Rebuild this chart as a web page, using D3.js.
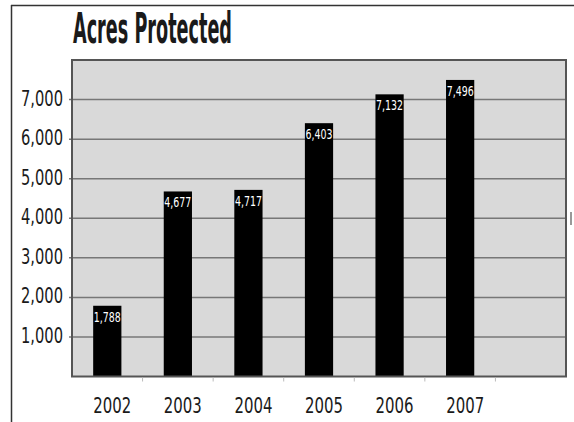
<!DOCTYPE html>
<html><head><meta charset="utf-8">
<script src="https://cdn.jsdelivr.net/npm/d3@7"></script>
<style>
html,body{margin:0;padding:0;background:#fff;}
svg{display:block;}
text{font-family:'Liberation Sans Narrow','DejaVu Sans Condensed','Arial Narrow',sans-serif;font-stretch:condensed;}
</style></head>
<body>
<svg id="chart" width="574" height="422"></svg>
<script>
const title = "Acres Protected";
const years = ["2002","2003","2004","2005","2006","2007"];
const acres = [1788, 4677, 4717, 6403, 7132, 7496];
const yTicks = [1000,2000,3000,4000,5000,6000,7000];

const svg = d3.select("#chart");
const W = 574, H = 422;
const plot = {left:72, right:566, top:60, bottom:376.5};

// outer frame lines
svg.append("line").attr("x1",11).attr("x2",W).attr("y1",5.5).attr("y2",5.5).attr("stroke","#333").attr("stroke-width",1.5);
svg.append("line").attr("x1",11.5).attr("x2",11.5).attr("y1",5).attr("y2",H).attr("stroke","#333").attr("stroke-width",1.5);
svg.append("rect").attr("x",570).attr("y",212).attr("width",2).attr("height",13).attr("fill","#999");

// title
svg.append("text").attr("x",73).attr("y",43).text(title)
  .attr("font-size",42).attr("font-weight","bold").attr("fill","#1a1a1a")
  .attr("textLength",159).attr("lengthAdjust","spacingAndGlyphs");

const x = d3.scaleBand().domain(years.concat(["_"])).range([plot.left, plot.right]).paddingInner(0.6).paddingOuter(0.3);
const y = d3.scaleLinear().domain([0,8000]).range([plot.bottom, plot.top]);

// plot background
svg.append("rect").attr("x",plot.left).attr("y",plot.top).attr("width",plot.right-plot.left).attr("height",plot.bottom-plot.top)
  .attr("fill","#d9d9d9");

// gridlines
svg.append("g").selectAll("line").data(yTicks).join("line")
  .attr("x1",plot.left-3).attr("x2",plot.right)
  .attr("y1",d=>y(d)).attr("y2",d=>y(d))
  .attr("stroke","#777").attr("stroke-width",1.5);

// y tick labels
svg.append("g").selectAll("text").data(yTicks).join("text")
  .attr("x",63).attr("y",d=>y(d)+6).attr("text-anchor","end")
  .attr("font-size",21).attr("fill","#1a1a1a")
  .attr("textLength",42).attr("lengthAdjust","spacingAndGlyphs")
  .text(d3.format(","));

// bars
svg.append("g").selectAll("rect").data(acres).join("rect")
  .attr("x",(d,i)=>x(years[i])).attr("width",x.bandwidth())
  .attr("y",d=>y(d)).attr("height",d=>y(0)-y(d))
  .attr("fill","#000");

// value labels
svg.append("g").selectAll("text").data(acres).join("text")
  .attr("x",(d,i)=>x(years[i])+x.bandwidth()/2).attr("y",d=>y(d)+16)
  .attr("text-anchor","middle").attr("font-size",14).attr("fill","#fff")
  .attr("textLength",27).attr("lengthAdjust","spacingAndGlyphs")
  .text(d3.format(","));

// plot border
svg.append("rect").attr("x",plot.left).attr("y",plot.top).attr("width",plot.right-plot.left).attr("height",plot.bottom-plot.top)
  .attr("fill","none").attr("stroke","#555").attr("stroke-width",2);

// x ticks (faint)
const step = x.step();
svg.append("g").selectAll("line").data(d3.range(1,7)).join("line")
  .attr("x1",d=>plot.left+d*step).attr("x2",d=>plot.left+d*step)
  .attr("y1",plot.bottom+1).attr("y2",plot.bottom+5)
  .attr("stroke","#bbb").attr("stroke-width",1);

// x labels
svg.append("g").selectAll("text").data(years).join("text")
  .attr("x",d=>x(d)+x.bandwidth()/2+5).attr("y",413)
  .attr("text-anchor","middle").attr("font-size",21).attr("fill","#1a1a1a")
  .attr("textLength",38).attr("lengthAdjust","spacingAndGlyphs")
  .text(d=>d);
</script>
</body></html>
